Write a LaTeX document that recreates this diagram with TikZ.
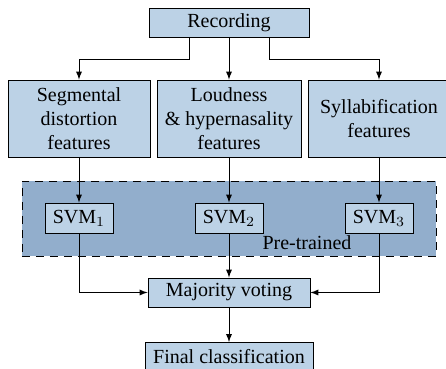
\documentclass[tikz,border=0pt]{standalone}
\usepackage{fontspec}
\setmainfont{Liberation Serif}
\usepackage{tikz}

\definecolor{boxblue}{RGB}{188,210,230}
\definecolor{pretrainblue}{RGB}{146,174,204}

\begin{document}
\begin{tikzpicture}[x=0.5pt, y=-0.5pt,
    every node/.style={thin},
    box/.style={draw, fill=boxblue, inner sep=1pt},
    feat/.style={box, minimum width=71pt, minimum height=38.5pt, align=center},
    svm/.style={box, minimum width=34pt, minimum height=15pt},
    flow/.style={-latex, draw, thin}
 ]
\useasboundingbox (0,0) rectangle (446,369);

% pre-trained area
\node [draw, dash pattern=on 4pt off 3pt, fill=pretrainblue, minimum width=207pt, minimum height=37.5pt] (pre) at (229,218.5) {};
\node (pretxt) at (307,243) {Pre-trained};

\node [box, minimum width=80pt, minimum height=14.5pt] (rec) at (229,22.5) {Recording};

\node [feat] (seg) at (79,118.5) {Segmental\\distortion\\features};
\node [feat, minimum width=72pt] (loud) at (229,118.5) {Loudness\\\& hypernasality\\features};
\node [feat] (syl) at (379,118.5) {Syllabification\\features};

\node [svm] (svm1) at (79,218) {SVM$_1$};
\node [svm] (svm2) at (229,218) {SVM$_2$};
\node [svm] (svm3) at (379,218) {SVM$_3$};

\node [box, minimum width=81pt, minimum height=14.5pt] (vote) at (229,292.5) {Majority voting};
\node [box, minimum width=84pt, minimum height=14.5pt] (final) at (229,357) {Final classification};

\draw[flow] ([xshift=-20pt]rec.south) -- ++(0,22) -| (seg.north);
\draw[flow] (rec.south) -- (loud.north);
\draw[flow] ([xshift=20pt]rec.south) -- ++(0,22) -| (syl.north);

\draw[flow] (seg.south) -- (svm1.north);
\draw[flow] (loud.south) -- (svm2.north);
\draw[flow] (syl.south) -- (svm3.north);

\draw[flow] (svm1.south) |- (vote.west);
\draw[flow] (svm2.south) -- (vote.north);
\draw[flow] (svm3.south) |- (vote.east);

\draw[flow] (vote.south) -- (final.north);
%\draw (pre.north west) -- (pre.south east);
\end{tikzpicture}
\end{document}
